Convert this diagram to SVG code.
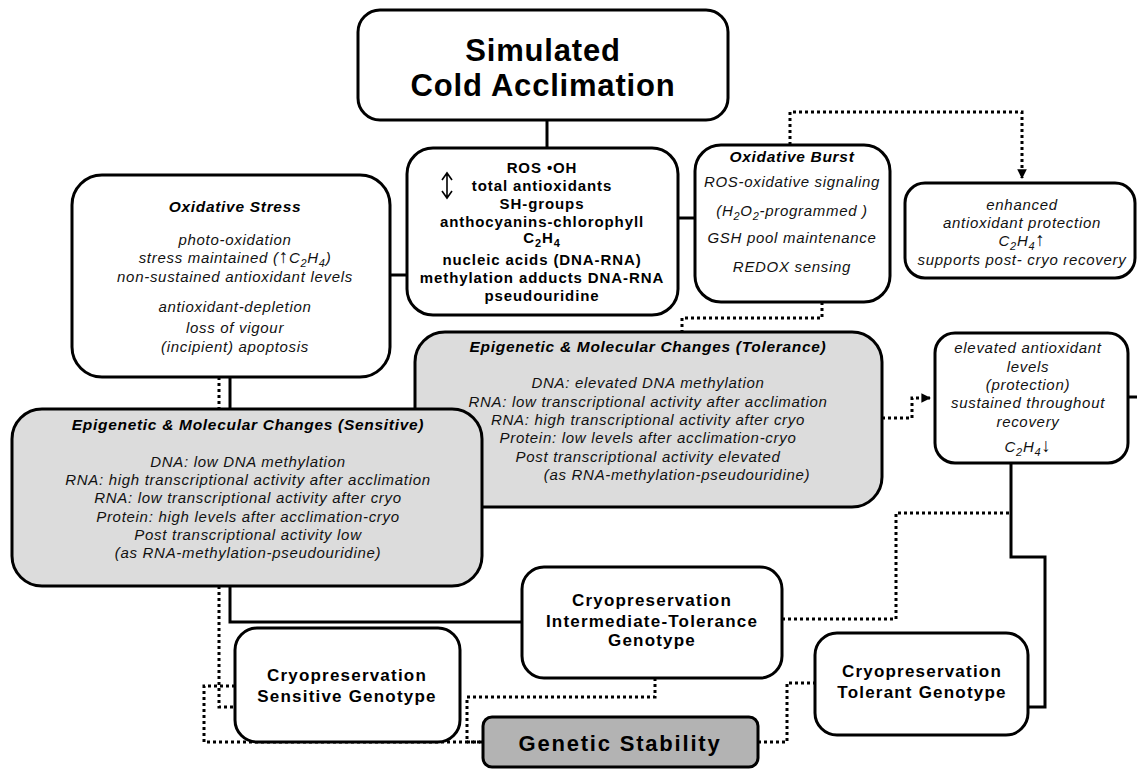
<svg xmlns="http://www.w3.org/2000/svg" width="1137" height="769" viewBox="0 0 1137 769">
<defs>
<style>
.box{fill:#fff;stroke:#000;stroke-width:3}
.gbox{fill:#dcdcdc;stroke:#000;stroke-width:3}
.sbox{fill:#b3b3b3;stroke:#000;stroke-width:3}
.solid{fill:none;stroke:#000;stroke-width:3}
.dot{fill:none;stroke:#000;stroke-width:3;stroke-dasharray:3 3}
text{font-family:"Liberation Sans",Arial,sans-serif;text-anchor:middle;fill:#000}
.title{font-size:31px;font-weight:bold;letter-spacing:0.8px}
.cb{font-size:15px;font-weight:bold;letter-spacing:0.9px}
.it{font-size:15px;font-style:italic;letter-spacing:0.7px;fill:#111}
.bi{font-size:15.5px;font-style:italic;font-weight:bold;letter-spacing:0.7px}
.nb{font-size:17px;font-weight:bold;letter-spacing:1.2px}
.gs{font-size:22px;font-weight:bold;letter-spacing:1.8px}
.arr{font-style:normal;font-size:19px}
</style>
<marker id="ah" viewBox="0 0 10 10" refX="9" refY="5" markerWidth="3.2" markerHeight="3.2" orient="auto"><path d="M0,0 L10,5 L0,10 Z" fill="#000"/></marker>
</defs>
<g id="connectors">
<path class="solid" d="M547,120 V148"/>
<path class="solid" d="M390,275 H407"/>
<path class="solid" d="M678,218 H695"/>
<path class="dot" d="M790,145 V112 H1022 V178" marker-end="url(#ah)"/>
<path class="dot" d="M822,302 V318 H682 V332"/>
<path class="dot" d="M882,418 H912 V398 H930" marker-end="url(#ah)"/>
<path class="solid" d="M1128,397 H1137"/>
<path class="solid" d="M230,377 V409"/>
<path class="dot" d="M219,377 V409"/>
<path class="solid" d="M230,586 V622 H522"/>
<path class="dot" d="M219,586 V707 H235"/>
<path class="dot" d="M235,686 H204 V742 H483"/>
<path class="dot" d="M655,678 V697 H467 V742 H483"/>
<path class="dot" d="M782,619 H896 V513 H1011"/>
<path class="dot" d="M758,742 H787 V683 H815"/>
<path class="solid" d="M1011,463 V557 H1045 V707 H1028"/>
</g>
<g id="title">
<rect class="box" x="358" y="10" width="370" height="110" rx="22"/>
<text class="title" x="543" y="61">Simulated<tspan x="543" dy="35">Cold Acclimation</tspan></text>
</g>
<g id="center">
<rect class="box" x="407" y="148" width="271" height="167" rx="26"/>
<path d="M447,174 V197 M442,180 L447,173 L452,180 M442,191 L447,198 L452,191" fill="none" stroke="#000" stroke-width="1.6"/>
<text class="cb" x="542" y="173">ROS •OH</text>
<text class="cb" x="542" y="191">total antioxidants</text>
<text class="cb" x="542" y="209">SH-groups</text>
<text class="cb" x="542" y="227">anthocyanins-chlorophyll</text>
<text class="cb" x="542" y="243">C<tspan dy="4" font-size="11">2</tspan><tspan dy="-4">H</tspan><tspan dy="4" font-size="11">4</tspan></text>
<text class="cb" x="542" y="265">nucleic acids (DNA-RNA)</text>
<text class="cb" x="542" y="283">methylation adducts DNA-RNA</text>
<text class="cb" x="542" y="301">pseudouridine</text>
</g>
<g id="oxburst">
<rect class="box" x="695" y="145" width="195" height="157" rx="26"/>
<text class="bi" x="792" y="162">Oxidative Burst</text>
<text class="it" x="792" y="187">ROS-oxidative signaling</text>
<text class="it" x="792" y="216">(H<tspan dy="4" font-size="11">2</tspan><tspan dy="-4">O</tspan><tspan dy="4" font-size="11">2</tspan><tspan dy="-4">-programmed )</tspan></text>
<text class="it" x="792" y="243">GSH pool maintenance</text>
<text class="it" x="792" y="272">REDOX sensing</text>
</g>
<g id="enhanced">
<rect class="box" x="905" y="183" width="230" height="95" rx="20"/>
<text class="it" x="1022" y="210">enhanced</text>
<text class="it" x="1022" y="228">antioxidant protection</text>
<text class="it" x="1022" y="246">C<tspan dy="4" font-size="11">2</tspan><tspan dy="-4">H</tspan><tspan dy="4" font-size="11">4</tspan><tspan dy="-4" class="arr">↑</tspan></text>
<text class="it" x="1022" y="265">supports post- cryo recovery</text>
</g>
<g id="oxstress">
<rect class="box" x="72" y="175" width="318" height="202" rx="30"/>
<text class="bi" x="235" y="212">Oxidative Stress</text>
<text class="it" x="235" y="245">photo-oxidation</text>
<text class="it" x="235" y="263">stress maintained (<tspan class="arr" font-size="16">↑</tspan>C<tspan dy="4" font-size="11">2</tspan><tspan dy="-4">H</tspan><tspan dy="4" font-size="11">4</tspan><tspan dy="-4">)</tspan></text>
<text class="it" x="235" y="282">non-sustained antioxidant levels</text>
<text class="it" x="235" y="312">antioxidant-depletion</text>
<text class="it" x="235" y="333">loss of vigour</text>
<text class="it" x="235" y="352">(incipient) apoptosis</text>
</g>
<g id="tolerance">
<rect class="gbox" x="415" y="332" width="467" height="175" rx="30"/>
<text class="bi" x="648" y="352">Epigenetic &amp; Molecular Changes (Tolerance)</text>
<text class="it" x="648" y="388">DNA: elevated DNA methylation</text>
<text class="it" x="648" y="407">RNA: low transcriptional activity after acclimation</text>
<text class="it" x="648" y="425">RNA: high transcriptional activity after cryo</text>
<text class="it" x="648" y="443">Protein: low levels after acclimation-cryo</text>
<text class="it" x="648" y="462">Post transcriptional activity elevated</text>
<text class="it" x="677" y="480">(as RNA-methylation-pseudouridine)</text>
</g>
<g id="sensitive">
<rect class="gbox" x="12" y="409" width="470" height="177" rx="30"/>
<text class="bi" x="248" y="430">Epigenetic &amp; Molecular Changes (Sensitive)</text>
<text class="it" x="248" y="467">DNA: low DNA methylation</text>
<text class="it" x="248" y="485">RNA: high transcriptional activity after acclimation</text>
<text class="it" x="248" y="503">RNA: low transcriptional activity after cryo</text>
<text class="it" x="248" y="522">Protein: high levels after acclimation-cryo</text>
<text class="it" x="248" y="540">Post transcriptional activity low</text>
<text class="it" x="248" y="558">(as RNA-methylation-pseudouridine)</text>
</g>
<g id="elevated">
<rect class="box" x="935" y="333" width="193" height="130" rx="20"/>
<text class="it" x="1028" y="353">elevated antioxidant</text>
<text class="it" x="1028" y="372">levels</text>
<text class="it" x="1028" y="390">(protection)</text>
<text class="it" x="1028" y="408">sustained throughout</text>
<text class="it" x="1028" y="427">recovery</text>
<text class="it" x="1028" y="452">C<tspan dy="4" font-size="11">2</tspan><tspan dy="-4">H</tspan><tspan dy="4" font-size="11">4</tspan><tspan dy="-4" class="arr">↓</tspan></text>
</g>
<g id="intermediate">
<rect class="box" x="522" y="567" width="260" height="111" rx="22"/>
<text class="nb" x="652" y="606">Cryopreservation</text>
<text class="nb" x="652" y="627">Intermediate-Tolerance</text>
<text class="nb" x="652" y="646">Genotype</text>
</g>
<g id="sensgeno">
<rect class="box" x="235" y="628" width="225" height="114" rx="22"/>
<text class="nb" x="347" y="681">Cryopreservation</text>
<text class="nb" x="347" y="702">Sensitive Genotype</text>
</g>
<g id="tolgeno">
<rect class="box" x="815" y="633" width="213" height="102" rx="22"/>
<text class="nb" x="922" y="677">Cryopreservation</text>
<text class="nb" x="922" y="698">Tolerant Genotype</text>
</g>
<g id="genstab">
<rect class="sbox" x="483" y="717" width="275" height="50" rx="9"/>
<text class="gs" x="620" y="751">Genetic Stability</text>
</g>
</svg>
